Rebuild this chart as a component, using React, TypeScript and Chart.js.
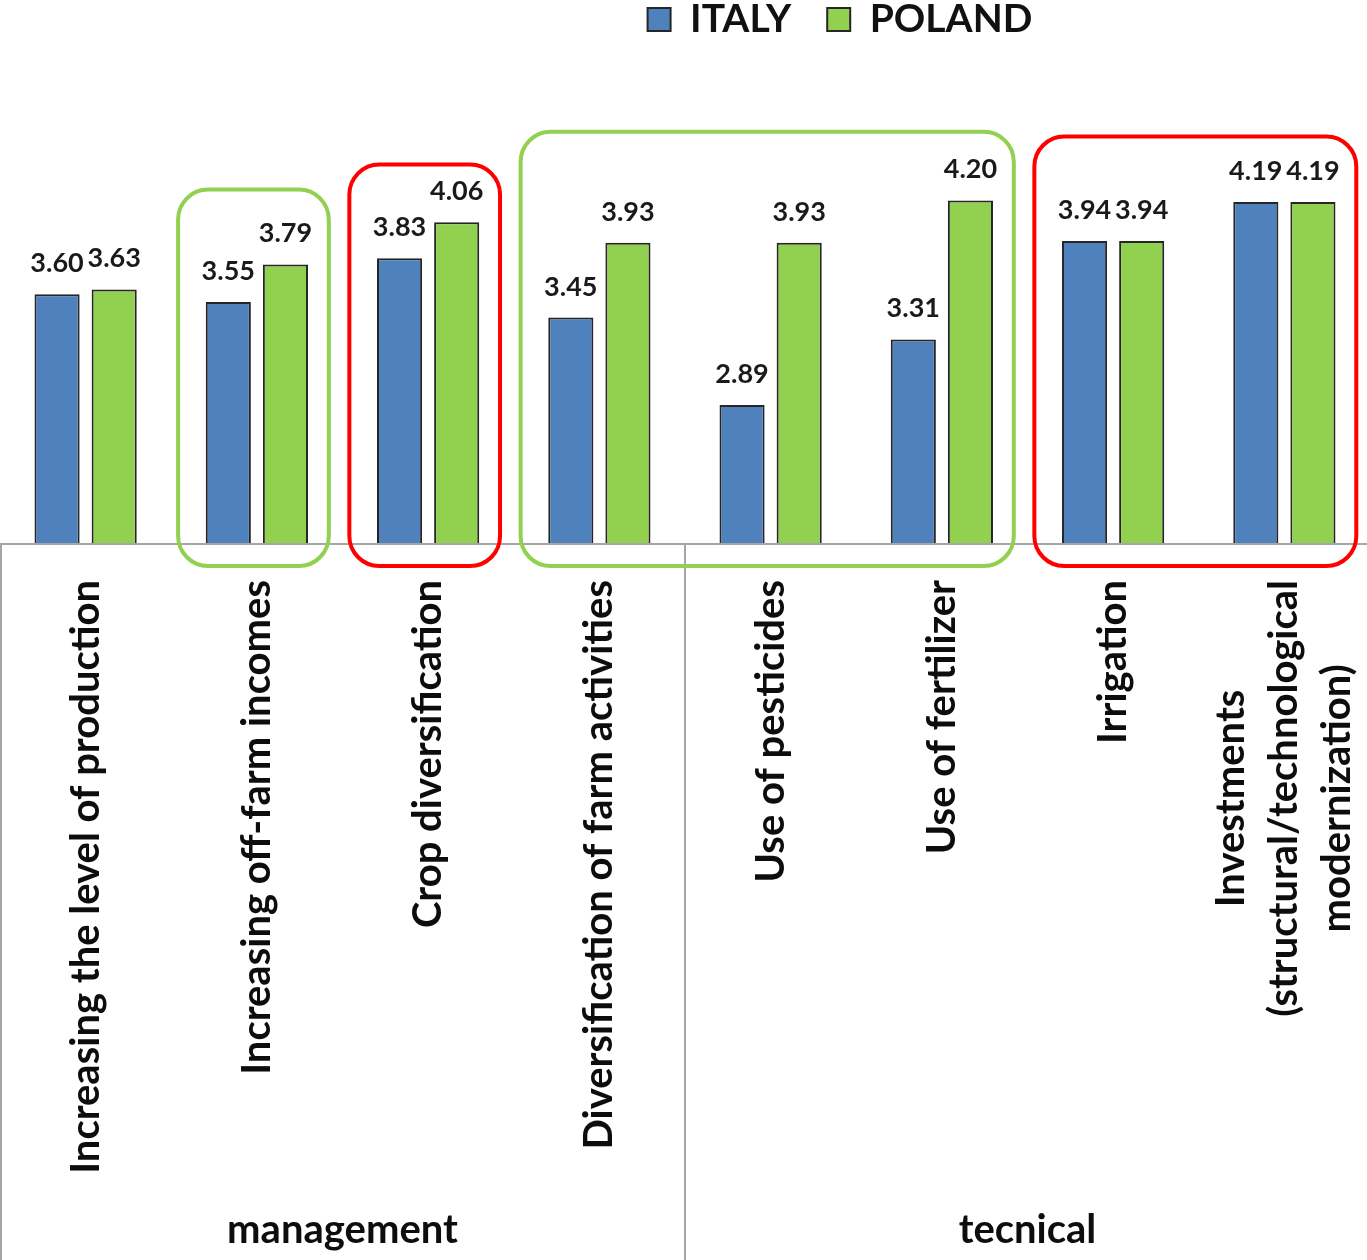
import { useEffect, useRef } from 'react';
import { Chart, registerables } from 'chart.js';

Chart.register(...registerables);

const categories: string[][] = [
  ['Increasing the level of production'],
  ['Increasing off-farm incomes'],
  ['Crop diversification'],
  ['Diversification of farm activities'],
  ['Use of pesticides'],
  ['Use of fertilizer'],
  ['Irrigation'],
  ['Investments', '(structural/technological', 'modernization)'],
];
const seriesNames = ['ITALY', 'POLAND'];
const italyValues = [3.6, 3.55, 3.83, 3.45, 2.89, 3.31, 3.94, 4.19];
const polandValues = [3.63, 3.79, 4.06, 3.93, 3.93, 4.2, 3.94, 4.19];
const groupNames = ['management', 'tecnical'];
const groupStart = [0, 4];
const groupEnd = [3, 7];
const boxStart = [1, 2, 3, 6];
const boxEnd = [1, 2, 5, 7];
const boxTopValue = [4.27, 4.43, 4.64, 4.61];
const boxColor = ['#92D050', '#FF0000', '#92D050', '#FF0000'];

const FONT = 'Lato, "Open Sans", sans-serif';
const W = 1370;
const H = 1260;
const AXIS_H = 716;

const overlayPlugin = {
  id: 'overlay',
  afterLayout(chart: any) {
    const lg = chart.legend;
    if (lg) {
      lg.left += 155;
      lg.right += 155;
    }
  },
  afterDatasetsDraw(chart: any) {
    const { ctx, scales } = chart;
    const x = scales.x;
    const y = scales.y;
    const base = chart.chartArea.bottom;
    const w = x.getPixelForValue(1) - x.getPixelForValue(0);
    ctx.save();

    // axis lines
    ctx.strokeStyle = '#a6a6a6';
    ctx.lineWidth = 2;
    ctx.beginPath();
    ctx.moveTo(0, base);
    ctx.lineTo(chart.width, base);
    const divs = [x.getPixelForValue(0) - w / 2, x.getPixelForValue(4) - w / 2, x.getPixelForValue(7) + w / 2];
    divs.forEach((d) => {
      const xx = Math.max(1, Math.min(chart.width - 1, d));
      ctx.moveTo(xx, base);
      ctx.lineTo(xx, chart.height);
    });
    ctx.stroke();

    // data labels
    ctx.fillStyle = '#1a1a1a';
    ctx.font = `bold 27px ${FONT}`;
    ctx.textAlign = 'center';
    ctx.textBaseline = 'alphabetic';
    chart.data.datasets.forEach((ds: any, di: number) => {
      const meta = chart.getDatasetMeta(di);
      meta.data.forEach((bar: any, i: number) => {
        ctx.fillText(Number(ds.data[i]).toFixed(2), bar.x, bar.y - 22);
      });
    });

    // category labels
    ctx.fillStyle = '#0d0d0d';
    ctx.font = `bold 40px ${FONT}`;
    ctx.textAlign = 'center';
    ctx.textBaseline = 'middle';
    const lh = 53;
    categories.forEach((lines, i) => {
      const cx = x.getPixelForValue(i);
      const maxW = Math.max(...lines.map((l) => ctx.measureText(l).width));
      ctx.save();
      ctx.translate(cx, base + 36 + maxW / 2);
      ctx.rotate(-Math.PI / 2);
      lines.forEach((l, j) => ctx.fillText(l, 0, (j - (lines.length - 1) / 2) * lh));
      ctx.restore();
    });

    // group labels
    ctx.textAlign = 'center';
    ctx.textBaseline = 'middle';
    groupNames.forEach((g, i) => {
      const l = x.getPixelForValue(groupStart[i]) - w / 2;
      const r = x.getPixelForValue(groupEnd[i]) + w / 2;
      ctx.fillText(g, (l + r) / 2, 1230);
    });

    // highlight boxes
    ctx.lineWidth = 4;
    boxStart.forEach((s, i) => {
      const l = x.getPixelForValue(s) - w * 0.46;
      const r = x.getPixelForValue(boxEnd[i]) + w * 0.42;
      const t = y.getPixelForValue(boxTopValue[i]);
      const b = base + 22;
      ctx.strokeStyle = boxColor[i];
      ctx.beginPath();
      ctx.roundRect(l, t, r - l, b - t, 30);
      ctx.stroke();
    });
    ctx.restore();
  },
};

export default function App() {
  const ref = useRef<HTMLCanvasElement>(null);
  useEffect(() => {
    if (!ref.current) return;
    const chart = new Chart(ref.current, {
      type: 'bar',
      data: {
        labels: categories.map((c) => c.join(' ')),
        datasets: [
          {
            label: seriesNames[0],
            data: italyValues,
            backgroundColor: '#4F81BD',
            borderColor: '#262626',
            borderWidth: 2,
            categoryPercentage: 0.667,
            barPercentage: 0.79,
          },
          {
            label: seriesNames[1],
            data: polandValues,
            backgroundColor: '#92D050',
            borderColor: '#262626',
            borderWidth: 2,
            categoryPercentage: 0.667,
            barPercentage: 0.79,
          },
        ],
      },
      options: {
        responsive: false,
        animation: false,
        layout: { padding: { top: -36, left: 0, right: 0, bottom: 0 } },
        plugins: {
          legend: {
            display: true,
            position: 'top',
            labels: {
              color: '#111',
              font: { family: FONT, size: 39, weight: 'bold' },
              boxWidth: 23,
              boxHeight: 23,
              padding: 36,
            },
          },
          tooltip: { enabled: false },
        },
        scales: {
          x: {
            display: true,
            grid: { display: false },
            border: { display: false },
            ticks: { display: false },
            afterFit: (s: any) => {
              s.height = AXIS_H;
            },
          },
          y: {
            display: false,
            min: 2,
            max: 5.17,
          },
        },
      },
      plugins: [overlayPlugin],
    });
    return () => chart.destroy();
  }, []);
  return (
    <div style={{ position: 'absolute', left: 0, top: 0, width: 1367, height: H, overflow: 'hidden', background: '#fff' }}>
      <canvas ref={ref} width={W} height={H} style={{ display: 'block' }} />
    </div>
  );
}
